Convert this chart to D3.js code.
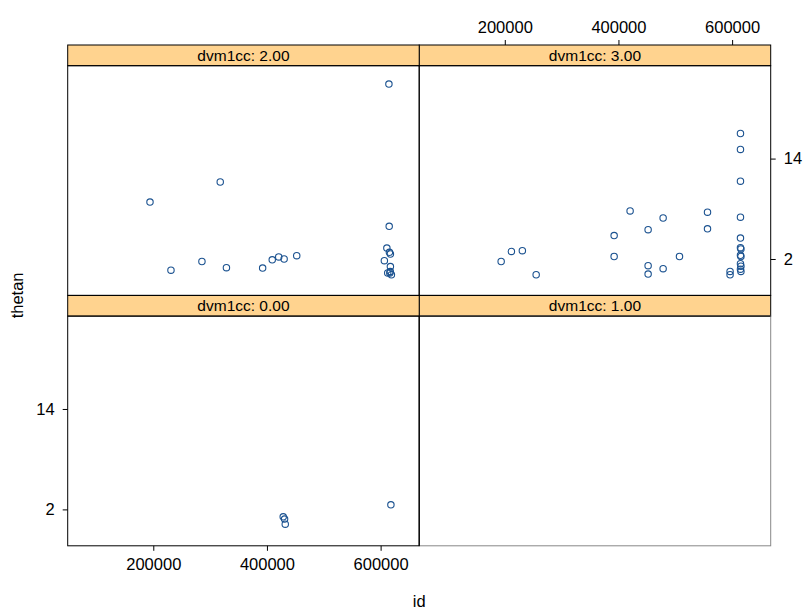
<html>
<head>
<title>thetan vs id</title>
<style>
  body { margin: 0; background: #fff; }
  text { font-family: "Liberation Sans", Arial, sans-serif; }
</style>
</head>
<body>
<div id="viz"></div>
<script src="https://d3js.org/d3.v7.min.js"></script>
<script>

var width = 811;
var height = 615;

// panel labels (row by row, top first)
var stripLabels = ["dvm1cc: 2.00", "dvm1cc: 3.00", "dvm1cc: 0.00", "dvm1cc: 1.00"];

// dvm1cc = 2
var id2 = [614600, 317800, 194200, 615100, 611000, 615500, 617200, 606600, 285600, 409300,
           420700, 430200, 452400, 231100, 328700, 392400, 617200, 612500, 616200, 619000, 617000];
var thetan2 = [22.9, 11.2, 8.8, 5.9, 3.3, 2.8, 2.6, 1.8, 1.7, 1.9,
               2.25, 2.0, 2.4, 0.66, 0.96, 0.92, 1.1, 0.33, 0.33, 0.12, 0.5];

// dvm1cc = 3
var id3 = [614700, 614700, 614700, 420500, 556700, 478600, 614700, 452200, 556700, 392400,
           614700, 230900, 211600, 193600, 392400, 507400, 452200, 478600, 452200, 255200,
           614700, 615500, 614700, 615500, 614700, 615500, 614700, 615500, 596400, 596400];
var thetan3 = [17.0, 15.1, 11.3, 7.75, 7.6, 6.9, 7.0, 5.5, 5.6, 4.8,
               4.5, 3.0, 2.9, 1.7, 2.3, 2.3, 1.2, 0.84, 0.2, 0.12,
               3.35, 3.2, 2.45, 2.3, 1.44, 1.14, 0.78, 0.52, 0.52, 0.12];

// dvm1cc = 0
var id0 = [618100, 428600, 431000, 432200];
var thetan0 = [2.55, 1.11, 0.84, 0.24];

// dvm1cc = 1 (empty)
var id1 = [];
var thetan1 = [];

var xTicks = [200000, 400000, 600000];
var yTicks = [2, 14];

var panelData = [
    { ids: id2, vals: thetan2 },
    { ids: id3, vals: thetan3 },
    { ids: id0, vals: thetan0 },
    { ids: id1, vals: thetan1 }
];

var padLeft = 67.7, padTop = 45, pw = 351.5, ph = 229.7, stripH = 20.7;
var cellH = ph + stripH;

var x = d3.scaleLinear().domain([49400, 667900]).range([0, pw]);
var y = d3.scaleLinear().domain([-2.35, 25.1]).range([ph, 0]);

var svg = d3.select("#viz")
    .append("svg")
    .attr("width", width)
    .attr("height", height);

var stripFill = "#ffd38f";
var pointCol = "#1b5290";

function style(a) {
    a.select(".domain").remove();
    a.selectAll(".tick line").attr("stroke", "#000");
    a.selectAll(".tick text").attr("font-size", "16.5px").attr("fill", "#000")
        .attr("font-family", "Liberation Sans, Arial, sans-serif");
}

// draw the empty panel first so the shared edges end up black
[3, 2, 1, 0].forEach(function (i) {
    var p = panelData[i];
    var col = i % 2, row = Math.floor(i / 2);
    var gx = padLeft + col * pw, gy = padTop + row * cellH;

    var g = svg.append("g").attr("transform", "translate(" + gx + "," + gy + ")");

    // strip
    g.append("rect")
        .attr("x", 0).attr("y", 0)
        .attr("width", pw).attr("height", stripH)
        .attr("fill", stripFill)
        .attr("stroke", "#000")
        .attr("stroke-width", 1);
    g.append("text")
        .attr("x", pw / 2).attr("y", stripH / 2 + 5.5)
        .attr("text-anchor", "middle")
        .attr("font-size", "15.5px")
        .attr("fill", "#000")
        .text(stripLabels[i]);

    var pg = g.append("g").attr("transform", "translate(0," + stripH + ")");
    pg.append("rect")
        .attr("width", pw).attr("height", ph)
        .attr("fill", "none")
        .attr("stroke", i === 3 ? "#888" : "#000")
        .attr("stroke-width", 1);
    if (i === 3) {
        pg.append("path")
            .attr("d", "M0," + ph + "V0H" + pw)
            .attr("fill", "none")
            .attr("stroke", "#000");
    }

    pg.selectAll("circle")
        .data(p.ids.map(function (d, j) { return [d, p.vals[j]]; }))
        .enter()
        .append("circle")
        .attr("cx", function (d) { return x(d[0]); })
        .attr("cy", function (d) { return y(d[1]); })
        .attr("r", 3.2)
        .attr("fill", "none")
        .attr("stroke", pointCol)
        .attr("stroke-width", 1.1);

    // axes, lattice style alternating
    if (i === 2) {
        pg.append("g").attr("transform", "translate(0," + ph + ")")
            .call(d3.axisBottom(x).tickValues(xTicks).tickSize(5).tickPadding(7).tickFormat(d3.format("d")))
            .call(style);
        pg.append("g")
            .call(d3.axisLeft(y).tickValues(yTicks).tickSize(5).tickPadding(8))
            .call(style);
    }
    if (i === 1) {
        g.append("g")
            .call(d3.axisTop(x).tickValues(xTicks).tickSize(5).tickPadding(7).tickFormat(d3.format("d")))
            .call(style);
        pg.append("g").attr("transform", "translate(" + pw + ",0)")
            .call(d3.axisRight(y).tickValues(yTicks).tickSize(5).tickPadding(8))
            .call(style);
    }
});

// axis titles
svg.append("text")
    .attr("x", padLeft + pw)
    .attr("y", 607)
    .attr("text-anchor", "middle")
    .attr("font-size", "16.5px")
    .text("id");

svg.append("text")
    .attr("transform", "translate(23," + (padTop + cellH) + ") rotate(-90)")
    .attr("text-anchor", "middle")
    .attr("font-size", "16.5px")
    .text("thetan");

</script>
</body>
</html>
